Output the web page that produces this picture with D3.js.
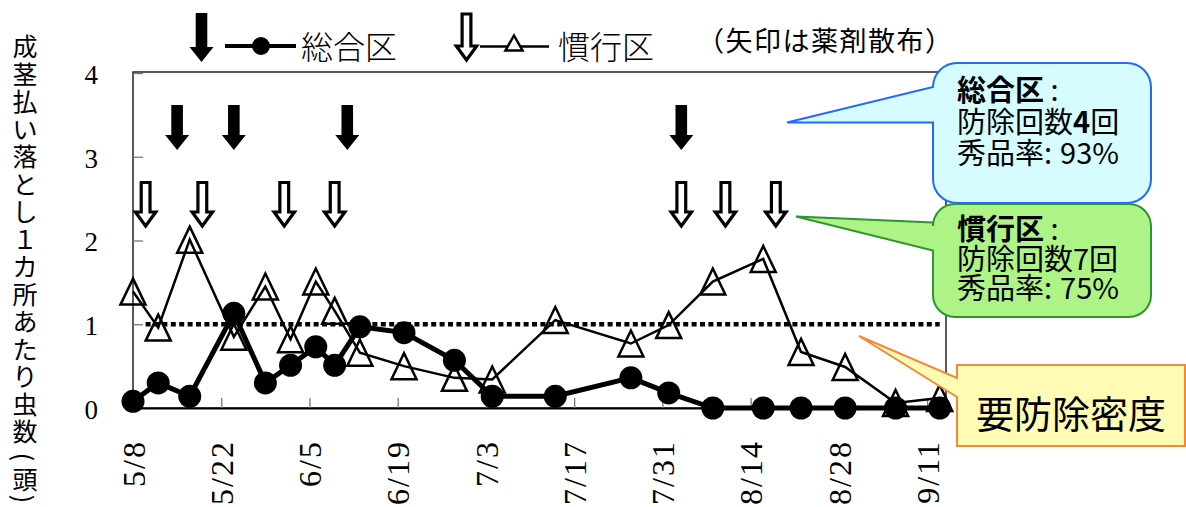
<!DOCTYPE html>
<html>
<head>
<meta charset="utf-8">
<script src="https://cdn.jsdelivr.net/npm/d3@7"></script>
<style>
  body { margin: 0; background: #fff; }
  svg { display: block; }
</style>
</head>
<body>
<svg></svg>
<script>
const size = {w: 1186, h: 507};
const plot = {l: 133, r: 946, t: 73, b: 408};

// sampling dates and counts
const dates = ['5/8','5/12','5/17','5/24','5/29','6/2','6/6','6/9','6/13','6/20','6/28',
               '7/4','7/14','7/26','8/1','8/8','8/16','8/22','8/29','9/6','9/13'];
const sogo  = [0.08,0.30,0.14,1.13,0.30,0.51,0.73,0.51,0.97,0.90,0.57,
               0.14,0.14,0.36,0.18,0,0,0,0,0,0];
const kanko = [1.39,0.96,2.01,0.85,1.45,0.82,1.51,1.16,0.66,0.50,0.36,
               0.34,1.05,0.77,0.99,1.51,1.78,0.67,0.49,0.06,0.12];

// spray dates (arrows)
const sogoSpray  = ['5/15','5/24','6/11','8/3'];
const kankoSpray = ['5/10','5/19','6/1','6/9','8/3','8/10','8/18'];

const xTickLabels = ['5/8','5/22','6/5','6/19','7/3','7/17','7/31','8/14','8/28','9/11'];
const yTicks = [0, 1, 2, 3, 4];
const threshold = 1;
const thresholdSpan = ['5/10', '9/13'];
const xDomain = ['5/8', '9/14'];

const yTitle = ['成','茎','払','い','落','と','し','１','カ','所','あ','た','り','虫','数','(','頭',')'];

const svg = d3.select('svg')
    .attr('width', size.w)
    .attr('height', size.h);

const parse = d3.timeParse('%m/%d');
const fmt = d3.timeFormat('%-m/%-d');

const x = d3.scaleTime()
    .domain(xDomain.map(parse))
    .range([plot.l, plot.r]);

const y = d3.scaleLinear()
    .domain([0, 4])
    .range([plot.b, plot.t]);

const jp = '"Noto Sans CJK JP", "Noto Sans", sans-serif';
const serif = '"Liberation Serif", "DejaVu Serif", serif';

// frame
svg.append('rect')
    .attr('x', plot.l).attr('y', y(4) - 1)
    .attr('width', plot.r - plot.l).attr('height', plot.b - y(4) + 1)
    .attr('fill', 'none').attr('stroke', '#000').attr('stroke-width', 1.3);

// y axis
let yAxis = svg.append('g')
    .attr('transform', `translate(${plot.l},0)`)
    .call(d3.axisLeft(y).tickValues(yTicks).tickSizeInner(-10).tickSizeOuter(0).tickPadding(35).tickFormat(d3.format('d')));
yAxis.select('.domain').remove();
yAxis.selectAll('.tick line').attr('stroke', '#777').attr('stroke-width', 1.3);
yAxis.selectAll('.tick text')
    .attr('font-family', serif).attr('font-size', 27).attr('fill', '#000')
    .attr('dy', '0.38em');

// x axis
let xAxis = svg.append('g')
    .attr('transform', `translate(0,${plot.b})`)
    .call(d3.axisBottom(x).tickValues(xTickLabels.map(parse)).tickSizeInner(-10).tickSizeOuter(0).tickFormat(fmt));
xAxis.select('.domain').attr('stroke', '#000').attr('stroke-width', 2);
xAxis.selectAll('.tick line').attr('stroke', '#777').attr('stroke-width', 1.3);
xAxis.selectAll('.tick text')
    .attr('transform', 'rotate(-90)')
    .attr('x', -32).attr('y', 0).attr('dy', '0.35em')
    .style('text-anchor', 'end')
    .attr('font-family', serif).attr('font-size', 32)
    .attr('letter-spacing', 2).attr('fill', '#000');

// threshold (dotted)
svg.append('line')
    .attr('x1', x(parse(thresholdSpan[0]))).attr('x2', x(parse(thresholdSpan[1])))
    .attr('y1', y(threshold)).attr('y2', y(threshold))
    .attr('stroke', '#000').attr('stroke-width', 4.5)
    .attr('stroke-dasharray', '5,3.4');

const kankoData = dates.map((d, i) => ({date: parse(d), v: kanko[i]}));
const sogoData = dates.map((d, i) => ({date: parse(d), v: sogo[i]}));

const line = d3.line().x(d => x(d.date)).y(d => y(d.v));

svg.append('path')
    .datum(kankoData)
    .attr('d', line)
    .attr('fill', 'none').attr('stroke', '#000').attr('stroke-width', 2.5);

svg.append('path')
    .datum(sogoData)
    .attr('d', line)
    .attr('fill', 'none').attr('stroke', '#000').attr('stroke-width', 5);

svg.selectAll('circle.sogo')
    .data(sogoData)
    .enter()
    .append('circle')
    .classed('sogo', true)
    .attr('cx', d => x(d.date)).attr('cy', d => y(d.v))
    .attr('r', 11.5).attr('fill', '#000');

function triPath(cx, cy, w, h) {
    return `M${cx},${cy - h / 2} L${cx + w / 2},${cy + h / 2} L${cx - w / 2},${cy + h / 2} Z`;
}

svg.selectAll('path.kanko')
    .data(kankoData)
    .enter()
    .append('path')
    .classed('kanko', true)
    .attr('d', d => triPath(x(d.date), y(d.v), 25, 26))
    .attr('fill', 'none').attr('stroke', '#000').attr('stroke-width', 2.5);

// arrows
function arrowPath(cx, top, tip, s, h, headH) {
    return `M${cx - s},${top} H${cx + s} V${tip - headH} H${cx + h} L${cx},${tip} L${cx - h},${tip - headH} H${cx - s} Z`;
}

function filledArrow(g, cx, top, tip) {
    g.append('path')
        .attr('d', arrowPath(cx, top, tip, 5.8, 12, 15))
        .attr('fill', '#000');
}

function hollowArrow(g, cx, top, tip) {
    g.append('path')
        .attr('d', arrowPath(cx, top, tip, 4.4, 10.2, 14))
        .attr('fill', '#fff').attr('stroke', '#000').attr('stroke-width', 3.2);
}

let arrowG = svg.append('g');
sogoSpray.forEach(d => filledArrow(arrowG, x(parse(d)), 105, 150));
kankoSpray.forEach(d => hollowArrow(arrowG, x(parse(d)), 182.5, 226));

// legend
let legend = svg.append('g');
filledArrow(legend, 201.5, 13, 62);
legend.append('line').attr('x1', 225).attr('x2', 296).attr('y1', 46).attr('y2', 46)
    .attr('stroke', '#000').attr('stroke-width', 4);
legend.append('circle').attr('cx', 261).attr('cy', 46).attr('r', 9).attr('fill', '#000');
legend.append('text').attr('x', 301).attr('y', 59)
    .attr('font-family', jp).attr('font-size', 32).attr('font-weight', 300)
    .text('総合区');

hollowArrow(legend, 466.5, 14, 60);
legend.append('line').attr('x1', 480).attr('x2', 549).attr('y1', 46.5).attr('y2', 46.5)
    .attr('stroke', '#000').attr('stroke-width', 2.5);
legend.append('path').attr('d', triPath(514, 43, 17, 15))
    .attr('fill', '#fff').attr('stroke', '#000').attr('stroke-width', 2.5);
legend.append('text').attr('x', 558).attr('y', 59)
    .attr('font-family', jp).attr('font-size', 32).attr('font-weight', 300)
    .text('慣行区');

legend.append('text').attr('x', 697).attr('y', 51)
    .attr('font-family', jp).attr('font-size', 27).attr('letter-spacing', 1.5)
    .text('（矢印は薬剤散布）');

// y title, stacked vertically; brackets turned for vertical writing
const isParen = c => c === '(' || c === ')';
let titleY = [];
let cy = 45;
yTitle.forEach((c, i) => {
    if (i > 0) {
        let step = 27.5;
        if (c === '(') step = 27;
        else if (isParen(c) || isParen(yTitle[i - 1])) step = 21;
        cy += step;
    }
    titleY.push(cy);
});

svg.append('g')
    .selectAll('text')
    .data(yTitle)
    .enter()
    .append('text')
    .attr('x', 25)
    .attr('y', (d, i) => titleY[i])
    .attr('dominant-baseline', 'central')
    .attr('text-anchor', 'middle')
    .attr('transform', (d, i) => isParen(d) ? `rotate(90,25,${titleY[i]})` : null)
    .attr('font-family', jp).attr('font-size', 25)
    .text(d => d);

// callouts
function calloutPath(x0, y0, x1, y1, r, pTop, tip, pBot) {
    return `M${x0 + r},${y0} H${x1 - r} A${r},${r} 0 0 1 ${x1},${y0 + r}` +
        ` V${y1 - r} A${r},${r} 0 0 1 ${x1 - r},${y1} H${x0 + r} A${r},${r} 0 0 1 ${x0},${y1 - r}` +
        ` V${pBot} L${tip[0]},${tip[1]} L${x0},${pTop} V${y0 + r} A${r},${r} 0 0 1 ${x0 + r},${y0} Z`;
}

svg.append('path')
    .attr('d', calloutPath(933, 63, 1151, 203, 24, 87, [787, 122.5], 122.5))
    .attr('fill', '#d6fcff').attr('stroke', '#1f6bff').attr('stroke-width', 2);

svg.append('path')
    .attr('d', calloutPath(933, 204, 1151, 317, 22, 222.5, [796, 216.5], 250.5))
    .attr('fill', '#aef385').attr('stroke', '#2f962f').attr('stroke-width', 2);

svg.append('path')
    .attr('d', `M957,365 H1185 V446 H957 V397 L859,336 L957,378 Z`)
    .attr('fill', '#fffab4').attr('stroke', '#f5893a').attr('stroke-width', 2);

function calloutText(x0, ys, lines) {
    let t = svg.append('text').attr('font-family', jp).attr('font-size', 29).attr('fill', '#000');
    lines.forEach((parts, i) => {
        parts.forEach((p, j) => {
            let ts = t.append('tspan').text(p[0]).attr('font-weight', p[1] ? 700 : 400);
            if (p[2]) ts.attr('dx', p[2]);
            if (j === 0) ts.attr('x', x0).attr('y', ys[i]);
        });
    });
}

calloutText(957, [101, 132.5, 164], [
    [['総合区', true], [' :', false]],
    [['防除回数', false], ['4', true], ['回', false]],
    [['秀品率:', false], ['93%', false, 8]]
]);

calloutText(957, [240, 269.5, 299], [
    [['慣行区', true], [' :', false]],
    [['防除回数7回', false]],
    [['秀品率:', false], ['75%', false, 8]]
]);

svg.append('text')
    .attr('x', 1071).attr('y', 428)
    .attr('text-anchor', 'middle')
    .attr('font-family', jp).attr('font-size', 38)
    .text('要防除密度');
</script>
</body>
</html>
